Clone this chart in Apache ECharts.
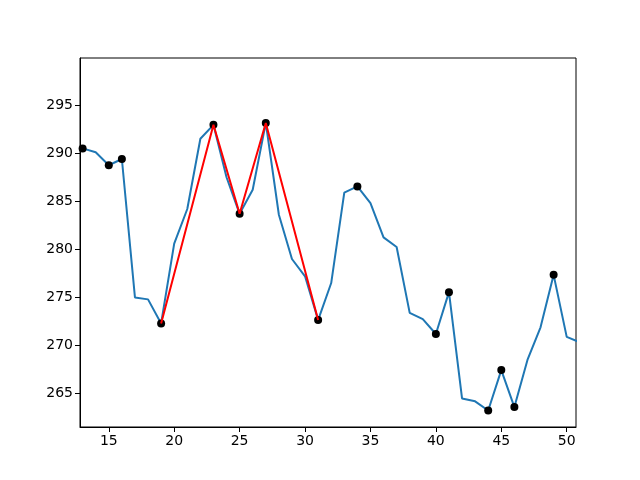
<!DOCTYPE html>
<html>
<head>
<meta charset="utf-8">
<script src="https://cdn.jsdelivr.net/npm/echarts@6/dist/echarts.min.js"></script>
<style>
  html, body { margin: 0; padding: 0; background: #fff; }
  #chart { width: 640px; height: 480px; }
</style>
</head>
<body>
<div id="chart"></div>
<script>
// series values
const xs = [13, 14, 15, 16, 17, 18, 19, 20, 21, 22, 23, 24, 25, 26, 27, 28, 29, 30, 31, 32,
  33, 34, 35, 36, 37, 38, 39, 40, 41, 42, 43, 44, 45, 46, 47, 48, 49, 50, 51];
const ys = [290.5, 290.1, 288.75, 289.4, 275.0, 274.8, 272.3, 280.6, 284.2, 291.5, 292.95,
  287.5, 283.7, 286.2, 293.15, 283.6, 279.0, 277.2, 272.65, 276.5, 285.9, 286.55, 284.8,
  281.25, 280.25, 273.4, 272.75, 271.2, 275.55, 264.5, 264.2, 263.25, 267.45, 263.6, 268.5,
  271.9, 277.35, 270.9, 270.35];

// x positions of the black markers and of the red path
const markX = [13, 15, 16, 19, 23, 25, 27, 31, 34, 40, 41, 44, 45, 46, 49];
const redX = [19, 23, 25, 27, 31];

const xTicks = [15, 20, 25, 30, 35, 40, 45, 50];
const yTicks = [265, 270, 275, 280, 285, 290, 295];

const valueAt = (x) => ys[xs.indexOf(x)];
const lineData = xs.map((x, i) => [x, ys[i]]);
const markData = markX.map((x) => [x, valueAt(x)]);
const redData = redX.map((x) => [x, valueAt(x)]);

const chart = echarts.init(document.getElementById('chart'));
const labelStyle = { color: '#000', fontSize: 14, fontFamily: 'DejaVu Sans' };

chart.setOption({
  animation: false,
  grid: { left: 80, right: 64, top: 58, bottom: 53, show: true, borderColor: '#000', borderWidth: 1 },
  xAxis: {
    type: 'value',
    min: 12.8,
    max: 50.71,
    axisLine: { show: true, onZero: false, lineStyle: { color: '#000' } },
    axisTick: { show: true, length: 5, customValues: xTicks, lineStyle: { color: '#000' } },
    axisLabel: Object.assign({ margin: 7, customValues: xTicks }, labelStyle),
    splitLine: { show: false }
  },
  yAxis: {
    type: 'value',
    min: 261.53,
    max: 299.9,
    axisLine: { show: true, onZero: false, lineStyle: { color: '#000' } },
    axisTick: { show: true, length: 5, customValues: yTicks, lineStyle: { color: '#000' } },
    axisLabel: Object.assign({ margin: 7, customValues: yTicks }, labelStyle),
    splitLine: { show: false }
  },
  series: [
    {
      type: 'line',
      data: lineData,
      showSymbol: false,
      lineStyle: { color: '#1f77b4', width: 2 },
      z: 2
    },
    {
      type: 'scatter',
      data: markData,
      symbolSize: 8,
      itemStyle: { color: '#000', opacity: 1 },
      z: 3
    },
    {
      type: 'line',
      data: redData,
      showSymbol: false,
      lineStyle: { color: '#ff0000', width: 2 },
      z: 4
    }
  ]
});
</script>
</body>
</html>
